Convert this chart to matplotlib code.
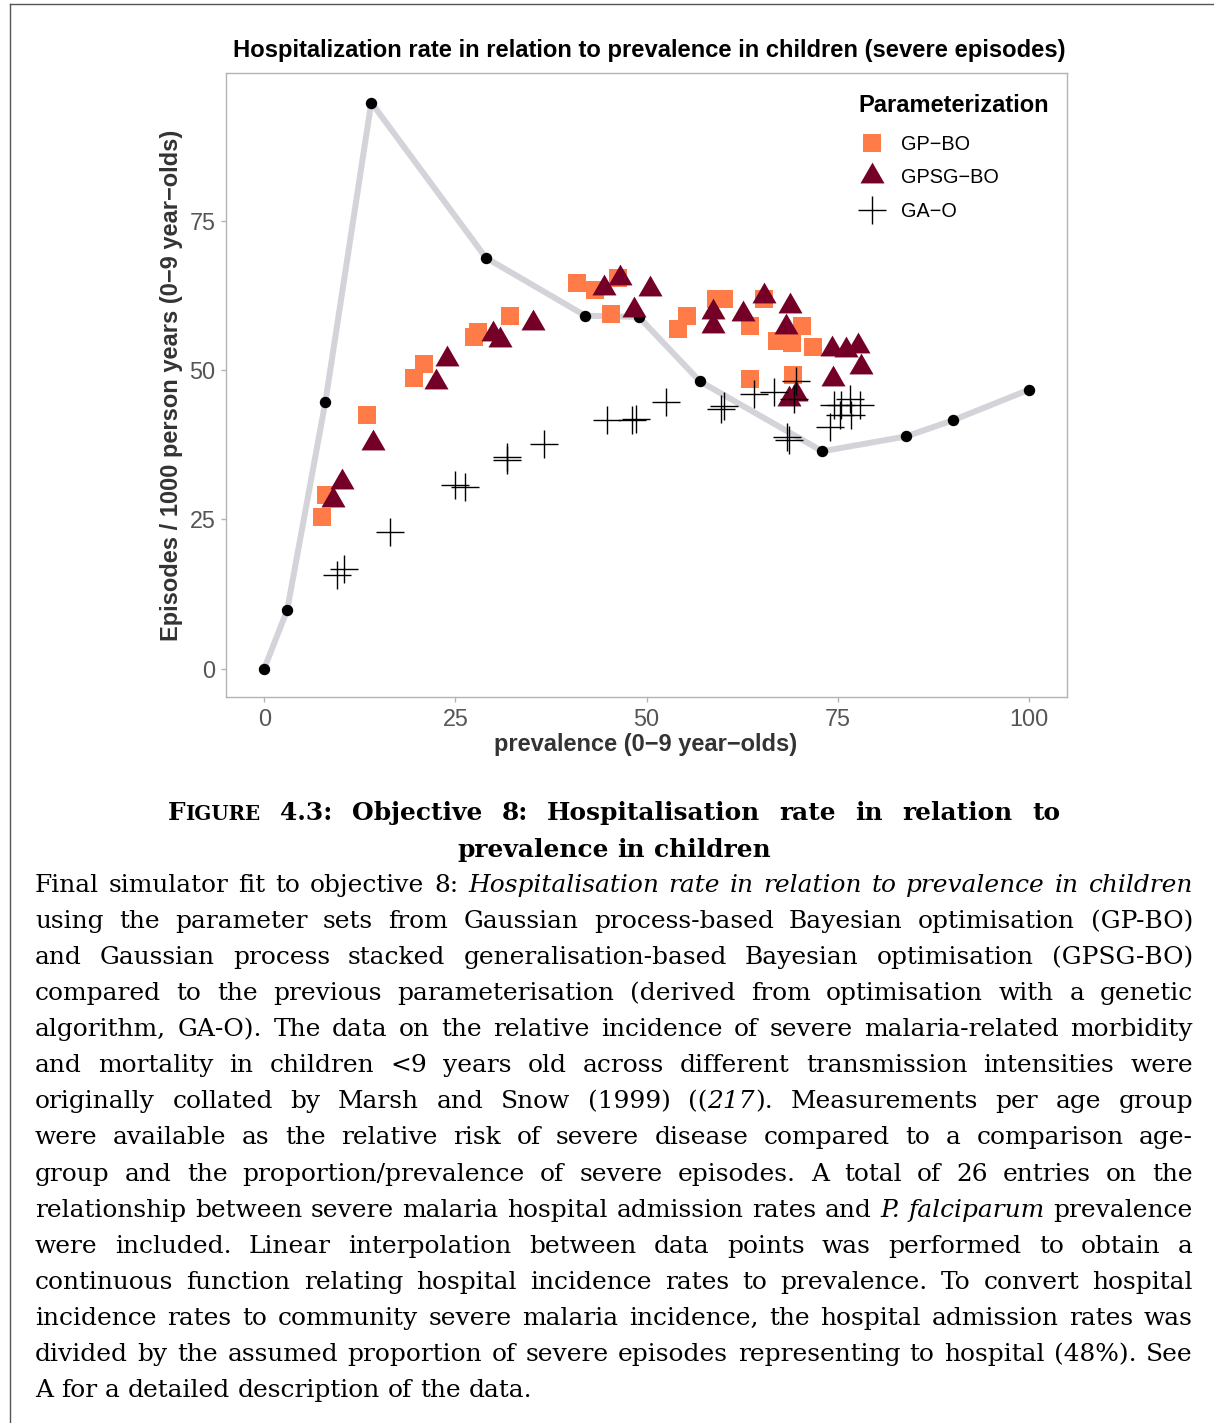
import matplotlib
matplotlib.use("Agg")
import matplotlib.pyplot as plt
from matplotlib.lines import Line2D

W, H = 1214, 1423
SANS = "Liberation Sans"
SERIF = "DejaVu Serif"

# reference curve (Marsh & Snow data, linear interpolation)
ref_prev = [0, 3.0, 8.0, 14.0, 29.0, 42.0, 49.0, 57.0, 73.0, 84.0, 90.1, 100]
ref_rate = [0, 9.8, 44.7, 94.8, 68.8, 59.1, 58.9, 48.1, 36.4, 38.9, 41.6, 46.7]

gp_prev = [7.5, 8.1, 13.5, 19.6, 20.9, 27.5, 27.9, 32.2, 40.9, 43.2, 46.3, 45.3,
           54.1, 55.3, 59.1, 60.1, 63.5, 65.4, 70.4, 67.1, 69.0, 71.8, 63.6, 69.2]
gp_rate = [25.4, 29.0, 42.5, 48.6, 51.0, 55.6, 56.3, 59.0, 64.6, 63.4, 65.5, 59.4,
           56.9, 59.1, 61.9, 61.9, 57.3, 61.9, 57.4, 54.9, 54.5, 53.9, 48.5, 49.1]

gpsg_prev = [9.05, 10.2, 14.2, 22.5, 23.9, 29.9, 30.9, 35.2, 44.4, 46.5, 48.3, 50.5,
             58.7, 58.7, 62.6, 65.4, 68.8, 68.2, 74.2, 76.1, 77.7, 78.1, 74.4, 68.6, 69.5]
gpsg_rate = [28.3, 31.3, 37.8, 48.0, 51.8, 56.1, 55.0, 57.8, 63.8, 65.5, 60.1, 63.5,
             59.7, 57.4, 59.4, 62.4, 60.8, 57.2, 53.5, 53.4, 54.1, 50.5, 48.5, 45.2, 46.0]

gao_prev = [9.5, 10.4, 16.4, 25.0, 26.2, 31.7, 31.8, 36.6, 44.8, 48.1, 48.6, 52.6,
            59.7, 60.2, 64.1, 66.7, 69.5, 69.3, 68.4, 68.7, 74.0, 74.5, 75.5, 76.6,
            77.9, 76.8, 75.3]
gao_rate = [15.7, 16.7, 22.8, 30.7, 30.4, 35.4, 34.9, 37.7, 41.6, 41.6, 41.8, 44.6,
            43.5, 43.9, 46.0, 46.3, 48.2, 45.2, 38.8, 38.3, 40.5, 44.2, 44.2, 45.2,
            44.2, 42.4, 42.4]

x_ticks = [0, 25, 50, 75, 100]
y_ticks = [0, 25, 50, 75]

ORANGE = "#FF7B47"
MAROON = "#740027"
TRI = [(-1, -0.577), (1, -0.577), (0, 1.155)]

caption_head = "Objective 8: Hospitalisation rate in relation to"
caption_head2 = "prevalence in children"
caption_lines = [
    "Final simulator fit to objective 8: _Hospitalisation rate in relation to prevalence in children_",
    "using the parameter sets from Gaussian process-based Bayesian optimisation (GP-BO)",
    "and Gaussian process stacked generalisation-based Bayesian optimisation (GPSG-BO)",
    "compared to the previous parameterisation (derived from optimisation with a genetic",
    "algorithm, GA-O). The data on the relative incidence of severe malaria-related morbidity",
    "and mortality in children <9 years old across different transmission intensities were",
    "originally collated by Marsh and Snow (1999) ((_217_). Measurements per age group",
    "were available as the relative risk of severe disease compared to a comparison age-",
    "group and the proportion/prevalence of severe episodes. A total of 26 entries on the",
    "relationship between severe malaria hospital admission rates and _P. falciparum_ prevalence",
    "were included. Linear interpolation between data points was performed to obtain a",
    "continuous function relating hospital incidence rates to prevalence. To convert hospital",
    "incidence rates to community severe malaria incidence, the hospital admission rates was",
    "divided by the assumed proportion of severe episodes representing to hospital (48%). See",
    "A for a detailed description of the data.",
]


def parse_words(line):
    """split a line into words, each word a list of (text, props) pieces; '_' toggles italic"""
    words, italic = [], False
    for raw in line.split():
        pieces, buf = [], ""
        for ch in raw:
            if ch == "_":
                if buf:
                    pieces.append((buf, italic))
                buf = ""
                italic = not italic
            else:
                buf += ch
        if buf:
            pieces.append((buf, italic))
        words.append([(t, dict(fontstyle="italic" if it else "normal")) for t, it in pieces])
    return words


def text_width(fig, renderer, s, **kw):
    t = fig.text(0, 0, s, **kw)
    w = t.get_window_extent(renderer).width
    t.remove()
    return w


def natural_width(fig, renderer, words, base):
    total = 0
    for word in words:
        for txt, props in word:
            kw = dict(base)
            kw.update(props)
            total += text_width(fig, renderer, txt, **kw)
    sp = text_width(fig, renderer, "a a", **base) - text_width(fig, renderer, "aa", **base)
    return total + sp * (len(words) - 1)


def place_words(fig, renderer, words, x0, x1, y, base, justify=True, center=False):
    arts, widths = [], []
    for word in words:
        row = []
        for txt, props in word:
            kw = dict(base)
            kw.update(props)
            t = fig.text(0, y / H, txt, va="baseline", ha="left", **kw)
            row.append((t, t.get_window_extent(renderer).width))
        arts.append(row)
        widths.append(sum(w for _, w in row))
    sp = text_width(fig, renderer, "a a", **base) - text_width(fig, renderer, "aa", **base)
    total = sum(widths)
    if justify and len(words) > 1:
        gap = (x1 - x0 - total) / (len(words) - 1)
    else:
        gap = sp
    x = x0
    if center:
        x = (x0 + x1) / 2 - (total + gap * (len(words) - 1)) / 2
    for row in arts:
        for t, w in row:
            t.set_x(x / W)
            x += w
        x += gap


def main():
    fig = plt.figure(figsize=(W / 100, H / 100), dpi=100)
    fig.patch.set_facecolor("white")
    ax = fig.add_axes([226 / W, 1 - 697 / H, 841 / W, 624 / H])

    ax.plot(ref_prev, ref_rate, color="#D3D3D9", lw=4.3, solid_capstyle="round", zorder=2)
    ax.plot(ref_prev, ref_rate, "o", color="black", ms=7.2, zorder=3)
    ax.plot(gp_prev, gp_rate, "s", color=ORANGE, ms=13.5, mew=0, ls="none", zorder=4)
    ax.plot(gpsg_prev, gpsg_rate, marker=TRI, color=MAROON, ms=20, mew=0, ls="none", zorder=5)
    ax.plot(gao_prev, gao_rate, "+", color="black", ms=19.5, mew=1.0, ls="none", zorder=6)

    ax.set_xlim(-5, 105)
    ax.set_ylim(-4.75, 99.75)
    ax.set_xticks(x_ticks)
    ax.set_yticks(y_ticks)
    for s in ax.spines.values():
        s.set_color("#B3B3B3")
        s.set_linewidth(1.0)
    ax.tick_params(colors="#B3B3B3", length=3.6, width=1.0, labelcolor="#555555",
                   labelsize=16.8, pad=4)
    for lab in ax.get_xticklabels() + ax.get_yticklabels():
        lab.set_family(SANS)

    ax.set_xlabel("prevalence (0\u22129 year\u2212olds)", family=SANS, fontweight="bold",
                  fontsize=17, color="#333333", va="center")
    ax.xaxis.set_label_coords(0.4994, -(744 - 697) / 624)
    ax.set_ylabel("Episodes / 1000 person years (0\u22129 year\u2212olds)", family=SANS,
                  fontweight="bold", fontsize=17, color="#333333", va="center")
    ax.yaxis.set_label_coords(-(226 - 172) / 841, 0.5)
    ax.set_title("Hospitalization rate in relation to prevalence in children (severe episodes)",
                 family=SANS, fontweight="bold", fontsize=17.1, x=(649 - 226) / 841,
                 y=(697 - 50) / 624, va="center", pad=0)

    handles = [
        Line2D([], [], marker="s", color=ORANGE, ms=13.5, mew=0, ls="none"),
        Line2D([], [], marker=TRI, color=MAROON, ms=20, mew=0, ls="none"),
        Line2D([], [], marker="+", color="black", ms=19.5, mew=1.0, ls="none"),
    ]
    leg = ax.legend(handles, ["GP\u2212BO", "GPSG\u2212BO", "GA\u2212O"], title="Parameterization",
                    loc="upper left", bbox_to_anchor=((840 - 226) / 841, (697 - 76) / 624),
                    frameon=False, prop={"family": SANS, "size": 14.3}, handlelength=1.4,
                    handletextpad=0.75, labelspacing=0.72,
                    title_fontproperties={"family": SANS, "weight": "bold", "size": 17})
    leg._legend_box.align = "left"
    leg._legend_box.sep = 13

    # page frame lines
    fig.add_artist(Line2D([10 / W, 1], [1 - 4 / H, 1 - 4 / H], transform=fig.transFigure,
                          color="#555555", lw=1.0))
    fig.add_artist(Line2D([10 / W, 10 / W], [0, 1 - 4 / H], transform=fig.transFigure,
                          color="#555555", lw=1.0))

    renderer = fig.canvas.get_renderer()
    # choose the body size so the densest justified line just fits the text block
    probe = dict(family=SERIF, fontsize=16, color="black")
    widest = max(natural_width(fig, renderer, parse_words(l), probe) for l in caption_lines[:-1])
    fs = 16 * 1150 / widest
    body = dict(family=SERIF, fontsize=fs, color="black")
    bold = dict(family=SERIF, fontsize=fs, fontweight="bold", color="black")
    head_words = [[("F", {}), ("IGURE", dict(fontsize=fs * 0.8))], [("4.3:", {})]]
    head_words += [[(w, {})] for w in caption_head.split()]
    place_words(fig, renderer, head_words, 168, 1060, H - 820, bold, justify=True)
    place_words(fig, renderer, [[(w, {})] for w in caption_head2.split()], 168, 1060,
                H - 857, bold, justify=False, center=True)
    y0 = 892
    for i, line in enumerate(caption_lines):
        last = i == len(caption_lines) - 1
        place_words(fig, renderer, parse_words(line), 35, 1193, H - (y0 + 36.07 * i), body,
                    justify=not last)

    fig.savefig("out.png", dpi=100, facecolor="white")


if __name__ == "__main__":
    main()
